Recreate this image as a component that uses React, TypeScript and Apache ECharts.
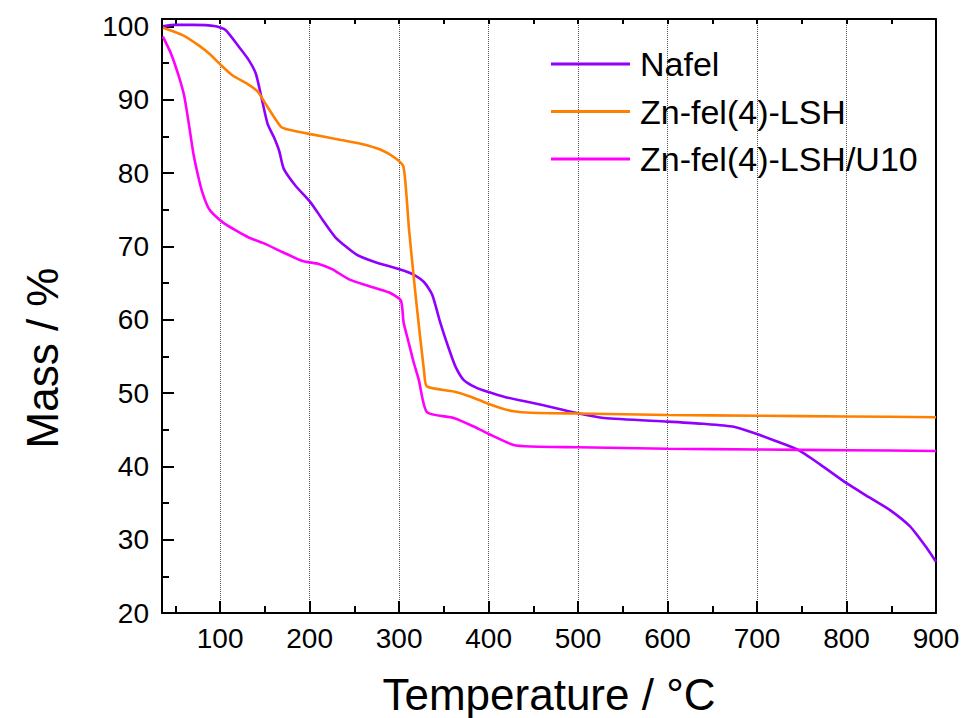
import React, { useEffect, useRef } from "react";
import * as echarts from "echarts";

const seriesNames = ["Nafel", "Zn-fel(4)-LSH", "Zn-fel(4)-LSH/U10"];
const seriesColors = ["#9000FF", "#FF8000", "#FF00FF"];

const nafelT = [36, 50, 70, 95, 106, 121, 132, 140, 146.5, 153, 160, 166, 171, 184, 201, 214, 229, 252, 272, 302, 315, 328, 337, 346, 356, 363, 372, 385, 398, 420, 447, 473, 501, 529, 600, 640, 674, 700, 720, 745, 770, 800, 825, 849, 871, 890, 900];
const nafelM = [100.0, 100.2, 100.2, 100.0, 99.5, 97.2, 95.4, 93.5, 90.1, 86.7, 84.9, 83.0, 80.6, 78.3, 76.0, 73.7, 71.2, 68.9, 67.9, 66.8, 66.2, 65.1, 63.4, 59.6, 55.9, 53.6, 51.8, 50.8, 50.2, 49.4, 48.7, 48.0, 47.2, 46.6, 46.1, 45.8, 45.4, 44.4, 43.5, 42.3, 40.3, 37.7, 35.8, 34.0, 31.8, 28.8, 27.0];

const lshT = [36, 58, 76, 89.5, 101, 114, 130, 142, 153, 168, 177, 201, 235, 257, 279, 296, 305, 311, 318.5, 328, 331, 361, 380, 398, 415, 428, 447, 501, 600, 700, 800, 900];
const lshM = [99.8, 98.8, 97.4, 96.1, 94.7, 93.3, 92.2, 91.1, 89.0, 86.3, 85.9, 85.3, 84.5, 84.0, 83.2, 82.0, 80.8, 72.4, 63.2, 52.8, 50.9, 50.2, 49.5, 48.6, 47.9, 47.5, 47.3, 47.2, 47.0, 46.9, 46.8, 46.7];

const u10T = [36, 45, 54, 60, 65, 70, 75, 80, 87.6, 102.6, 117, 132, 147, 170, 192, 210, 225, 244, 266, 289, 302, 305, 310, 316, 322, 331, 361, 384, 402, 428, 447, 500, 600, 700, 800, 900];
const u10M = [98.6, 96.3, 93.1, 90.4, 86.7, 82.7, 79.8, 77.4, 75.1, 73.3, 72.2, 71.2, 70.5, 69.2, 68.0, 67.6, 66.9, 65.5, 64.6, 63.7, 62.6, 59.6, 57.2, 54.3, 51.8, 47.4, 46.6, 45.4, 44.3, 42.9, 42.7, 42.6, 42.4, 42.3, 42.2, 42.1];

const xMajorTicks = [100, 200, 300, 400, 500, 600, 700, 800, 900];
const xMinorTicks = [50, 150, 250, 350, 450, 550, 650, 750, 850];
const xTopTicks = [50, 100, 150, 200, 250, 300, 350, 400, 450, 500, 550, 600, 650, 700, 750, 800, 850];
const yMajorTicks = [20, 30, 40, 50, 60, 70, 80, 90, 100];
const yMinorTicks = [25, 35, 45, 55, 65, 75, 85, 95];

const xTitle = "Temperature / °C";
const yTitle = "Mass / %";

const FONT = '"Liberation Sans", Arial, sans-serif';

function zip(a: number[], b: number[]) {
  return a.map((v, i) => [v, b[i]]);
}

export default function App() {
  const ref = useRef<HTMLDivElement>(null);
  useEffect(() => {
    if (!ref.current) return;
    const chart = echarts.init(ref.current, undefined, { renderer: "svg" });
    const xMin = 35, xMax = 900, yMin = 20, yMax = 101;
    const lineAx = { lineStyle: { color: "#000", width: 2 } };
    const tickStyle = { color: "#000", width: 2 };
    const option: any = {
      animation: false,
      backgroundColor: "#fff",
      grid: { left: 162, right: 32, top: 19, bottom: 105, containLabel: false },
      legend: {
        orient: "vertical",
        left: 551,
        top: 47,
        padding: 0,
        itemWidth: 79,
        itemHeight: 3,
        itemGap: 13.5,
        icon: "rect",
        data: seriesNames,
        textStyle: { fontSize: 34, fontFamily: FONT, color: "#000", lineHeight: 34, padding: [0, 0, 0, 5] },
      },
      xAxis: [
        {
          type: "value", position: "bottom", min: xMin, max: xMax,
          axisLine: { show: true, ...lineAx },
          axisTick: { show: true, inside: true, length: 12, customValues: xMajorTicks, lineStyle: tickStyle },
          axisLabel: { show: true, customValues: xMajorTicks, fontSize: 28, fontFamily: FONT, color: "#000", margin: 11 },
          splitLine: { show: true, lineStyle: { type: "dotted", color: "#555", width: 1 } },
        },
        {
          type: "value", position: "bottom", min: xMin, max: xMax,
          axisLine: { show: false },
          axisTick: { show: true, inside: true, length: 7, customValues: xMinorTicks, lineStyle: tickStyle },
          axisLabel: { show: false },
          splitLine: { show: false },
        },
        {
          type: "value", position: "top", min: xMin, max: xMax,
          axisLine: { show: true, ...lineAx },
          axisTick: { show: true, inside: true, length: 5, customValues: xTopTicks, lineStyle: tickStyle },
          axisLabel: { show: false },
          splitLine: { show: false },
        },
      ],
      yAxis: [
        {
          type: "value", position: "left", min: yMin, max: yMax,
          axisLine: { show: true, ...lineAx },
          axisTick: { show: true, inside: true, length: 12, customValues: yMajorTicks, lineStyle: tickStyle },
          axisLabel: { show: true, customValues: yMajorTicks, fontSize: 28, fontFamily: FONT, color: "#000", margin: 13 },
          splitLine: { show: false },
        },
        {
          type: "value", position: "left", min: yMin, max: yMax,
          axisLine: { show: false },
          axisTick: { show: true, inside: true, length: 7, customValues: yMinorTicks, lineStyle: tickStyle },
          axisLabel: { show: false },
          splitLine: { show: false },
        },
        {
          type: "value", position: "right", min: yMin, max: yMax,
          axisLine: { show: true, ...lineAx },
          axisTick: { show: false },
          axisLabel: { show: false },
          splitLine: { show: false },
        },
      ],
      graphic: [
        {
          type: "text",
          x: 549,
          y: 694,
          style: { text: xTitle, fontSize: 44, fontFamily: FONT, fill: "#000", textAlign: "center", textVerticalAlign: "middle" },
        },
        {
          type: "text",
          x: 42,
          y: 358,
          rotation: Math.PI / 2,
          style: { text: yTitle, fontSize: 44, fontFamily: FONT, fill: "#000", textAlign: "center", textVerticalAlign: "middle" },
        },
      ],
      series: [
        { name: seriesNames[0], data: zip(nafelT, nafelM), color: seriesColors[0] },
        { name: seriesNames[1], data: zip(lshT, lshM), color: seriesColors[1] },
        { name: seriesNames[2], data: zip(u10T, u10M), color: seriesColors[2] },
      ].map((s) => ({
        type: "line",
        name: s.name,
        data: s.data,
        xAxisIndex: 0,
        yAxisIndex: 0,
        showSymbol: false,
        symbol: "none",
        smooth: 0.2,
        itemStyle: { color: s.color },
        lineStyle: { color: s.color, width: 2.6 },
      })),
    };
    chart.setOption(option);
    return () => chart.dispose();
  }, []);
  return (
    <div
      ref={ref}
      style={{ position: "fixed", left: 0, top: 0, width: 968, height: 718, background: "#fff" }}
    />
  );
}
